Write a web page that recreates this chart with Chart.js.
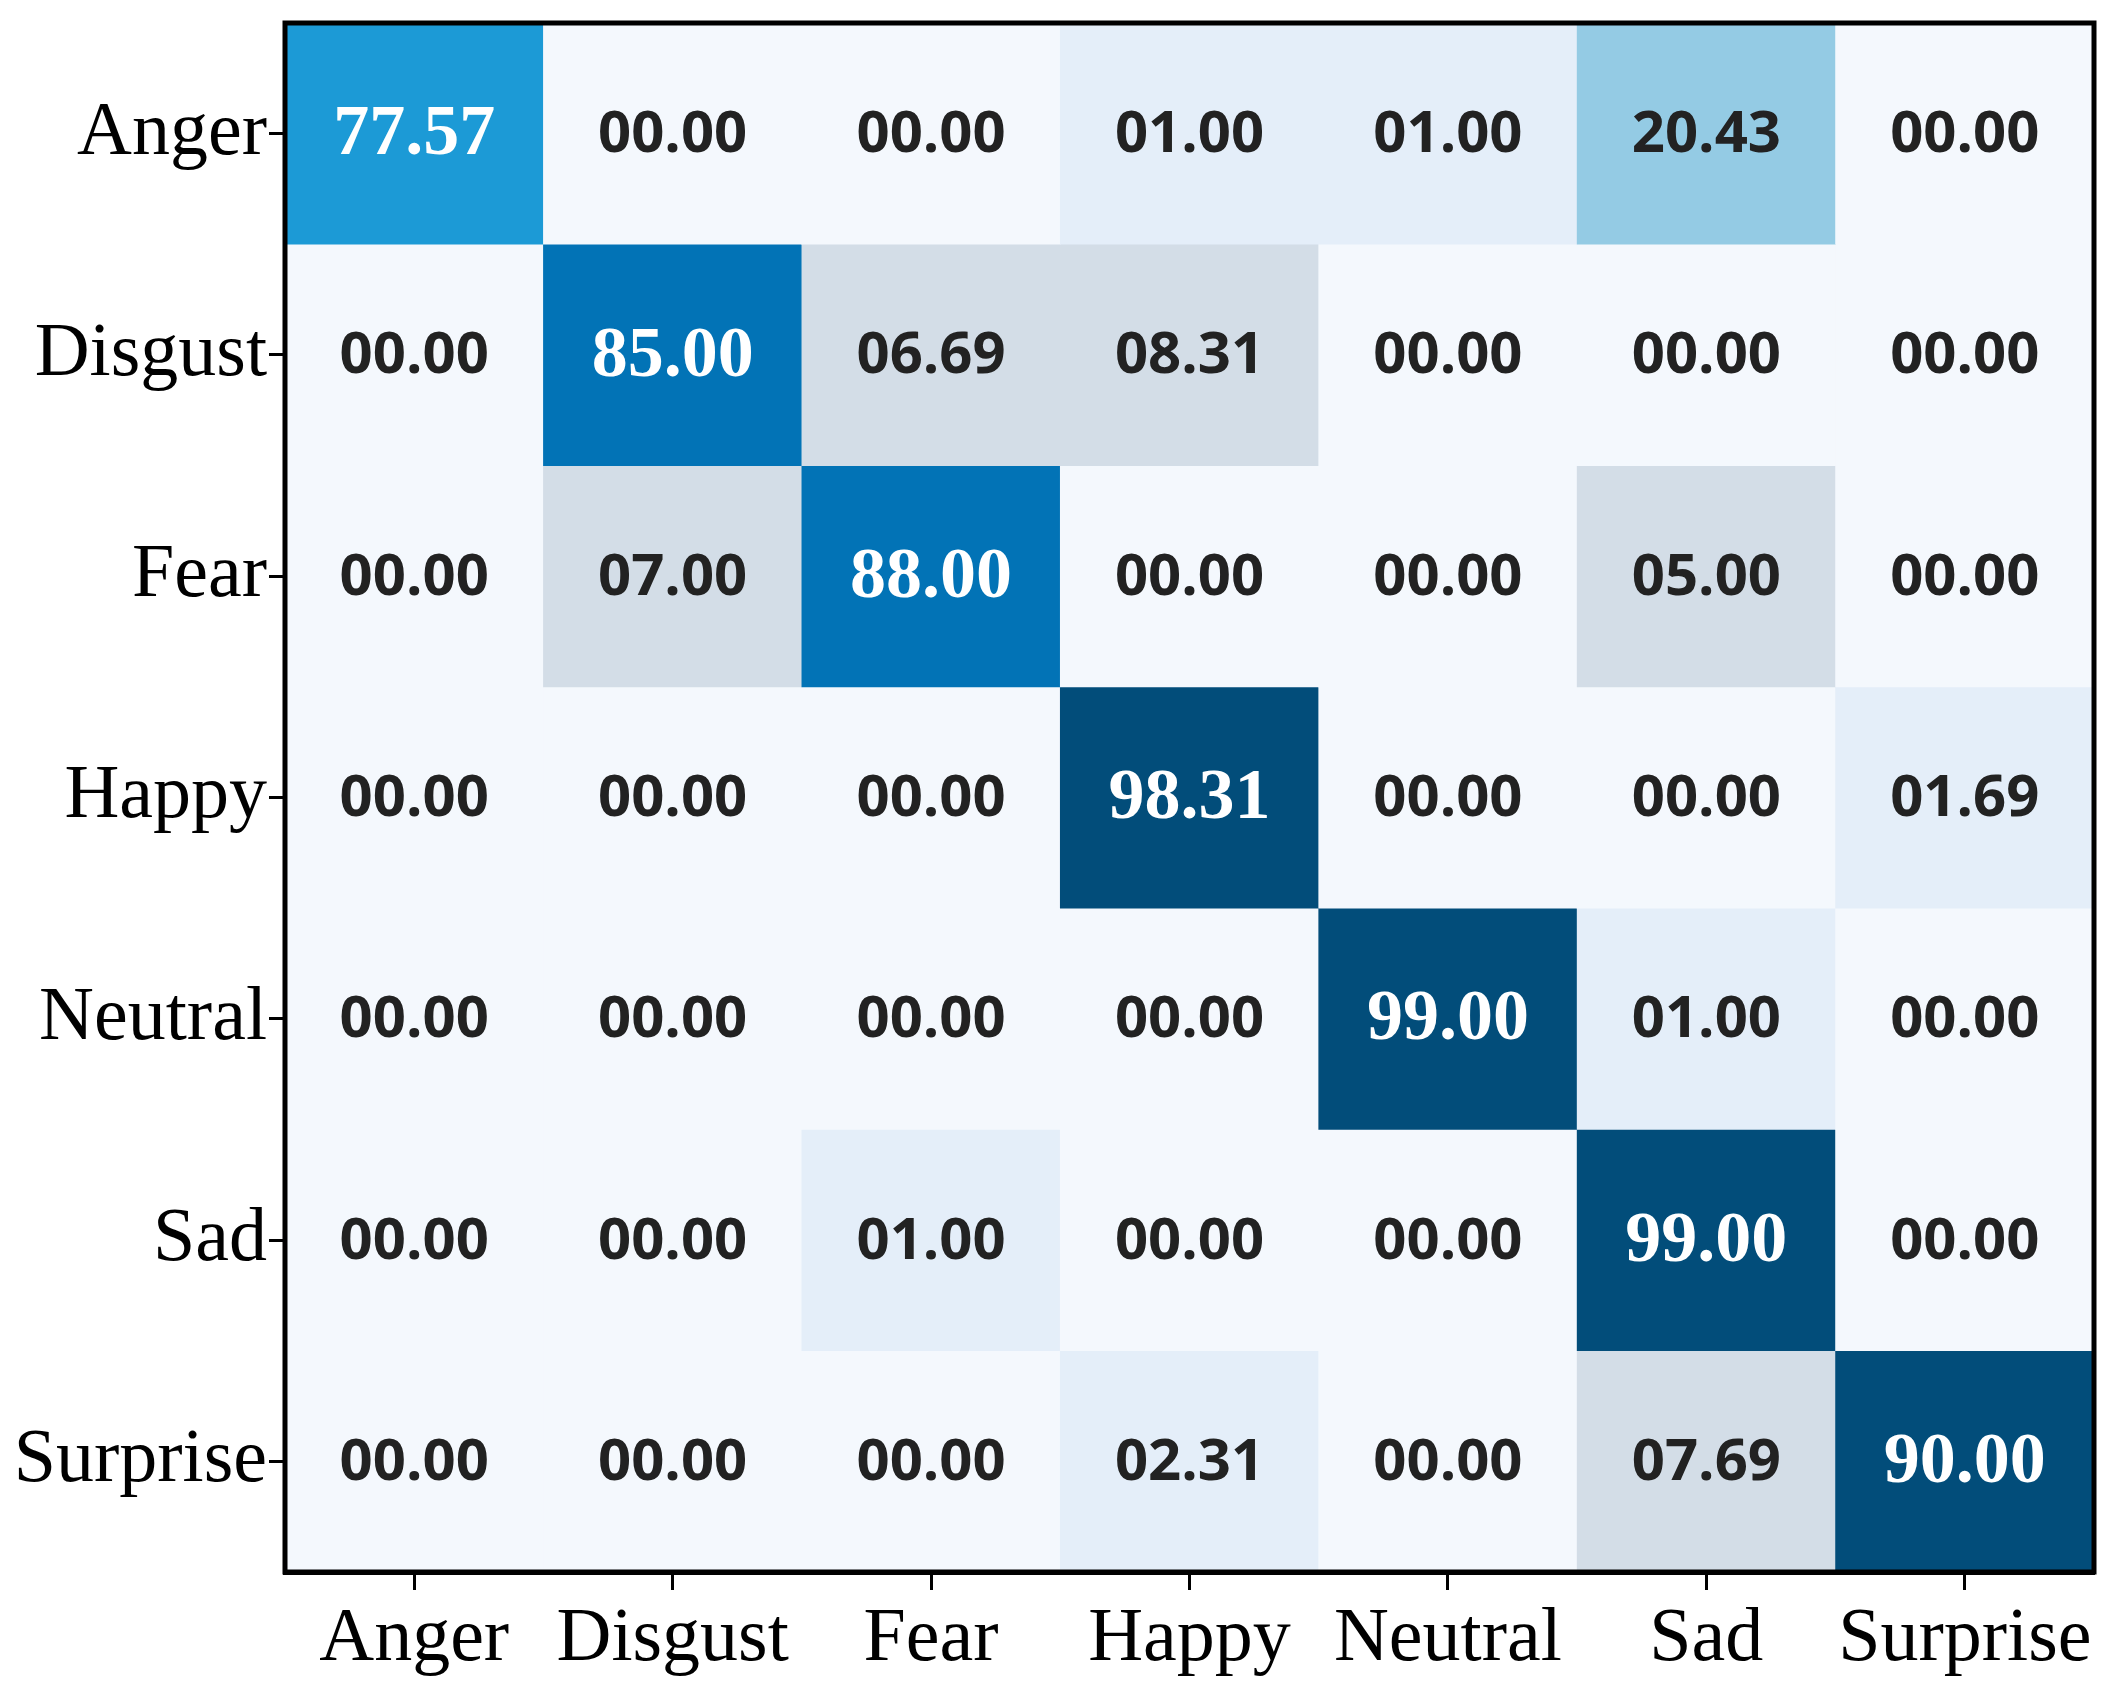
<!DOCTYPE html>
<html>
<head>
<meta charset="utf-8">
<title>Confusion matrix</title>
<script src="https://cdn.jsdelivr.net/npm/chart.js@4.4.1/dist/chart.umd.min.js"></script>
<style>
  html, body { margin: 0; padding: 0; background: #fff; }
  #wrap { width: 2125px; height: 1704px; }
</style>
</head>
<body>
<div id="wrap"><canvas id="cm"></canvas></div>
<script>
// classes (rows = true label, columns = predicted)
const classes = ["Anger", "Disgust", "Fear", "Happy", "Neutral", "Sad", "Surprise"];

const angerRow    = [77.57, 0.00, 0.00, 1.00, 1.00, 20.43, 0.00];
const disgustRow  = [0.00, 85.00, 6.69, 8.31, 0.00, 0.00, 0.00];
const fearRow     = [0.00, 7.00, 88.00, 0.00, 0.00, 5.00, 0.00];
const happyRow    = [0.00, 0.00, 0.00, 98.31, 0.00, 0.00, 1.69];
const neutralRow  = [0.00, 0.00, 0.00, 0.00, 99.00, 1.00, 0.00];
const sadRow      = [0.00, 0.00, 1.00, 0.00, 0.00, 99.00, 0.00];
const surpriseRow = [0.00, 0.00, 0.00, 2.31, 0.00, 7.69, 90.00];

const rows = [angerRow, disgustRow, fearRow, happyRow, neutralRow, sadRow, surpriseRow];

// colour steps
function cellColor(v) {
  if (v >= 89) return "#024d7a";
  if (v >= 80) return "#0273b6";
  if (v >= 50) return "#1c9ad6";
  if (v >= 15) return "#94cbe4";
  if (v >= 4) return "#d3dde7";
  if (v > 0) return "#e4eef9";
  return "#f4f8fd";
}

function fmt(v) {
  return v.toFixed(2).padStart(5, "0");
}

const datasets = rows.map(function (row, i) {
  return {
    label: classes[i],
    data: row.map(function () { return [i - 0.5, i + 0.5]; }),
    values: row,
    backgroundColor: row.map(cellColor),
    borderWidth: 0,
    barPercentage: 1,
    categoryPercentage: 1,
    grouped: false,
  };
});

// numbers inside the cells
const cellText = {
  id: "cellText",
  afterDatasetsDraw: function (chart) {
    const ctx = chart.ctx;
    ctx.save();
    ctx.textAlign = "center";
    ctx.textBaseline = "middle";
    chart.data.datasets.forEach(function (ds, di) {
      const meta = chart.getDatasetMeta(di);
      meta.data.forEach(function (bar, j) {
        const v = ds.values[j];
        const y = (bar.y + bar.base) / 2;
        if (v > 50) {
          ctx.fillStyle = "#ffffff";
          ctx.font = "bold 72px 'Liberation Serif'";
        } else {
          ctx.fillStyle = "#222222";
          ctx.font = "bold 58px 'Open Sans'";
        }
        ctx.fillText(fmt(v), bar.x, y + 2);
      });
    });
    ctx.restore();
  }
};

// black frame round the plot area
const frame = {
  id: "frame",
  afterDraw: function (chart) {
    const a = chart.chartArea;
    const ctx = chart.ctx;
    ctx.save();
    ctx.strokeStyle = "#000";
    ctx.lineWidth = 5;
    ctx.strokeRect(a.left, a.top, a.right - a.left, a.bottom - a.top);
    ctx.restore();
  }
};

const tickFont = { family: "'Liberation Serif'", size: 76 };

new Chart(document.getElementById("cm"), {
  type: "bar",
  data: { labels: classes, datasets: datasets },
  plugins: [cellText, frame],
  options: {
    responsive: true,
    maintainAspectRatio: false,
    animation: false,
    layout: { padding: { top: 23, right: 31, left: 0, bottom: 0 } },
    plugins: { legend: { display: false }, tooltip: { enabled: false } },
    scales: {
      x: {
        type: "category",
        offset: true,
        grid: { drawOnChartArea: false, drawTicks: true, tickLength: 18, tickColor: "#000", tickWidth: 3, offset: false },
        border: { display: true, color: "#000", width: 5 },
        ticks: { color: "#000", font: tickFont, padding: 4, maxRotation: 0, autoSkip: false },
        afterFit: function (s) { s.height = 132; s.paddingLeft = 0; s.paddingRight = 0; }
      },
      y: {
        type: "linear",
        reverse: true,
        min: -0.5,
        max: 6.5,
        afterBuildTicks: function (s) {
          s.ticks = classes.map(function (c, i) { return { value: i }; });
        },
        grid: { drawOnChartArea: false, drawTicks: true, tickLength: 16, tickColor: "#000", tickWidth: 3 },
        border: { display: true, color: "#000", width: 5 },
        ticks: {
          color: "#000",
          font: tickFont,
          padding: 2,
          callback: function (v) { return classes[v]; }
        },
        afterFit: function (s) { s.width = 285; s.paddingTop = 0; s.paddingBottom = 0; }
      }
    }
  }
});
</script>
</body>
</html>
